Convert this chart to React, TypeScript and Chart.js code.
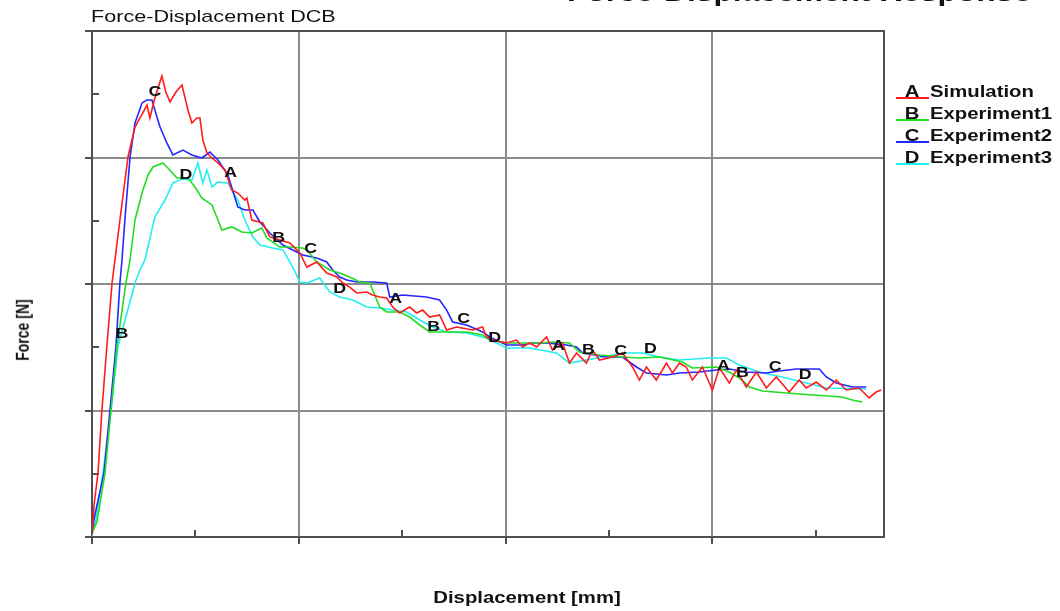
import React, { useEffect, useRef } from "react";
import { Chart, registerables } from "chart.js";

Chart.register(...registerables);

const FONT = '"Liberation Sans", Arial, Helvetica, sans-serif';
const STRETCH = 1.27;

// Displacement [mm] / Force [N] pairs
const simulation: [number, number][] = [
  [0, 1.6], [0.10, 25.3], [0.29, 50.6], [0.48, 100.4], [0.72, 151.0], [0.97, 200.8], [1.11, 219.0], [1.35, 250.6],
  [1.74, 300.4], [2.08, 324.1], [2.66, 341.5], [2.80, 331.2], [3.04, 347.0], [3.38, 364.4], [3.57, 351.8], [3.77, 343.9],
  [4.06, 351.8], [4.35, 357.3], [4.64, 337.5], [4.83, 327.3], [5.07, 331.2], [5.22, 331.2], [5.36, 313.8], [5.56, 303.6],
  [5.80, 299.6], [6.09, 295.7], [6.43, 290.1], [6.76, 274.3], [7.05, 271.9], [7.39, 266.4], [7.49, 268.0], [7.73, 250.6],
  [8.26, 248.2], [8.60, 237.2], [9.57, 232.4], [10.05, 224.5], [10.39, 213.4], [10.87, 217.4], [11.35, 208.7], [11.84, 205.5],
  [12.13, 200.8], [12.46, 197.6], [12.80, 192.9], [13.29, 193.7], [13.57, 191.3], [13.91, 189.7], [14.25, 188.9], [14.54, 181.8],
  [14.88, 177.1], [15.36, 181.8], [15.70, 177.1], [15.99, 179.4], [16.33, 173.9], [16.81, 175.5], [17.15, 163.6], [17.63, 166.0],
  [18.41, 163.6], [18.89, 166.0], [19.08, 158.1], [19.37, 155.7], [20.05, 153.4], [20.53, 155.7], [20.82, 150.2], [21.16, 153.4],
  [21.50, 150.2], [21.98, 158.1], [22.27, 147.8], [22.75, 153.4], [23.09, 137.5], [23.43, 145.5], [23.91, 137.5], [24.20, 147.8],
  [24.54, 139.9], [25.17, 142.3], [25.65, 145.5], [26.14, 134.4], [26.47, 124.1], [26.81, 134.4], [27.29, 124.1], [27.78, 137.5],
  [28.07, 129.6], [28.41, 137.5], [28.74, 134.4], [29.03, 124.1], [29.52, 134.4], [30.00, 116.2], [30.34, 133.6], [30.82, 121.7],
  [31.16, 132.0], [31.64, 118.6], [32.13, 130.4], [32.61, 117.8], [33.09, 126.5], [33.72, 114.6], [34.20, 124.1], [34.54, 117.8],
  [35.02, 122.5], [35.51, 116.2], [35.99, 124.1], [36.47, 116.2], [37.10, 117.8], [37.58, 109.9], [37.92, 114.6], [38.16, 116.2],
];

const experiment1: [number, number][] = [
  [0, 3.2], [0.24, 11.9], [0.63, 50.6], [0.92, 100.4], [1.21, 151.0], [1.64, 200.8], [1.84, 219.0], [2.08, 250.6],
  [2.42, 271.9], [2.71, 286.2], [2.95, 292.5], [3.43, 295.7], [3.67, 291.7], [4.11, 283.8], [4.64, 283.8], [4.98, 276.7],
  [5.31, 268.0], [5.80, 262.5], [6.09, 250.6], [6.28, 242.7], [6.76, 245.1], [7.25, 241.1], [7.73, 240.3], [8.21, 244.3],
  [8.45, 236.4], [9.08, 229.2], [9.57, 229.2], [10.19, 228.5], [10.39, 226.9], [10.87, 217.4], [11.50, 211.1], [11.98, 208.7],
  [12.46, 205.5], [12.95, 201.6], [13.43, 200.8], [13.57, 195.3], [13.91, 181.8], [14.25, 177.9], [14.88, 177.9], [15.36, 173.9],
  [15.85, 167.6], [16.33, 162.1], [17.15, 162.1], [18.12, 162.1], [18.89, 159.7], [19.23, 155.7], [20.05, 153.4], [21.64, 153.4],
  [22.27, 154.2], [23.09, 153.4], [23.57, 146.2], [24.54, 143.9], [25.65, 142.3], [26.47, 141.5], [27.44, 142.3], [28.55, 138.3],
  [29.03, 133.6], [30.19, 134.4], [30.82, 130.4], [31.30, 125.7], [31.79, 118.6], [32.42, 115.4], [34.20, 113.0], [36.28, 110.7],
  [36.76, 108.3], [37.25, 106.7],
];

const experiment2: [number, number][] = [
  [0, 3.2], [0.14, 17.4], [0.58, 50.6], [0.87, 100.4], [1.16, 151.0], [1.35, 200.8], [1.45, 219.0], [1.59, 250.6],
  [1.84, 300.4], [2.08, 327.3], [2.42, 343.1], [2.66, 345.5], [2.90, 345.5], [3.04, 337.5], [3.29, 324.1], [3.62, 311.5],
  [3.91, 302.0], [4.40, 305.9], [4.83, 302.0], [5.31, 299.6], [5.70, 304.3], [6.09, 298.0], [6.57, 286.2], [7.05, 260.9],
  [7.39, 258.5], [7.78, 258.5], [8.12, 249.0], [8.60, 240.3], [9.23, 230.8], [9.71, 226.9], [10.19, 222.9], [10.87, 220.6],
  [11.35, 217.4], [11.64, 211.1], [11.98, 205.5], [12.32, 203.2], [12.80, 201.6], [13.57, 201.6], [14.25, 200.8], [14.40, 189.7],
  [15.02, 191.3], [16.18, 189.7], [16.81, 187.4], [17.15, 179.4], [17.44, 170.0], [18.12, 167.6], [18.89, 162.1], [19.23, 158.1],
  [20.05, 151.8], [20.82, 151.8], [21.30, 153.4], [21.98, 153.4], [22.95, 151.8], [23.43, 150.2], [23.72, 145.5], [24.88, 142.3],
  [25.65, 142.3], [26.33, 134.4], [26.81, 129.6], [27.78, 128.1], [28.41, 129.6], [29.37, 130.4], [30.19, 132.0], [30.82, 132.8],
  [31.64, 130.4], [32.61, 129.6], [33.24, 131.2], [34.06, 132.8], [35.17, 132.8], [35.51, 126.5], [35.99, 121.7], [36.76, 118.6],
  [37.44, 118.6],
];

const experiment3: [number, number][] = [
  [0, 0.8], [0.19, 13.4], [0.53, 50.6], [0.92, 100.4], [1.26, 151.0], [2.08, 200.8], [2.32, 211.1], [2.56, 219.0],
  [3.04, 253.0], [3.53, 266.4], [3.91, 279.8], [4.35, 283.0], [4.83, 282.2], [5.12, 295.7], [5.36, 279.8], [5.56, 290.1],
  [5.80, 276.7], [6.09, 280.6], [6.57, 279.8], [7.05, 266.4], [7.39, 250.6], [7.78, 237.2], [8.12, 230.8], [8.74, 228.5],
  [9.23, 226.9], [9.71, 213.4], [10.05, 201.6], [10.39, 200.8], [11.01, 204.7], [11.50, 193.7], [11.98, 189.7], [12.61, 187.4],
  [13.29, 181.8], [13.91, 181.0], [14.54, 179.4], [15.22, 177.9], [15.85, 171.5], [16.47, 166.0], [17.15, 162.1], [18.12, 161.3],
  [19.08, 157.3], [20.05, 149.4], [21.16, 149.4], [22.46, 145.5], [23.09, 137.5], [23.91, 139.9], [24.69, 142.3], [25.65, 145.5],
  [26.62, 145.5], [27.44, 142.3], [28.41, 139.9], [29.86, 141.5], [30.68, 141.5], [31.30, 136.0], [32.27, 130.4], [33.57, 125.7],
  [34.35, 122.5], [35.51, 117.8], [37.44, 117.0],
];

const seriesNames = ["Simulation", "Experiment1", "Experiment2", "Experiment3"];
const seriesLetters = ["A", "B", "C", "D"];
const seriesColors = ["#ff1c1c", "#22dd22", "#2626ff", "#22eef2"];

// Letter markers placed along the curves
const markLetters = ["C", "D", "A", "B", "B", "C", "D", "A", "B", "C", "D", "A", "B", "C", "D", "A", "B", "C", "D"];
const markX = [3.04, 4.54, 6.71, 1.45, 9.03, 10.58, 11.98, 14.69, 16.52, 17.97, 19.47, 22.56, 24.01, 25.56, 27.0, 30.53, 31.45, 33.04, 34.49];
const markY = [352.6, 287.0, 288.5, 161.3, 237.2, 228.5, 196.8, 188.9, 166.8, 173.1, 158.1, 151.8, 148.6, 147.8, 149.4, 136.0, 130.4, 135.2, 128.9];

const xRange = [0, 38.3];
const yRange = [0, 400];
const xMajor = [0, 10, 20, 30];
const xMinor = [5, 15, 25, 35];
const yMajor = [0, 100, 200, 300, 400];
const yMinor = [50, 150, 250, 350];

const framePlugin = {
  id: "frame",
  beforeDatasetsDraw(chart: any) {
    const { ctx, chartArea: a, scales } = chart;
    const x = scales.x;
    const y = scales.y;
    ctx.save();
    ctx.lineCap = "butt";
    ctx.lineWidth = 2;
    ctx.strokeStyle = "#8c8c8c";
    xMajor.forEach((v) => {
      const px = Math.round(x.getPixelForValue(v));
      ctx.beginPath();
      ctx.moveTo(px, a.top);
      ctx.lineTo(px, a.bottom + 7);
      ctx.stroke();
    });
    yMajor.forEach((v) => {
      const py = Math.round(y.getPixelForValue(v));
      ctx.beginPath();
      ctx.moveTo(a.left - 7, py);
      ctx.lineTo(a.right, py);
      ctx.stroke();
    });
    ctx.strokeStyle = "#505050";
    ctx.strokeRect(a.left, a.top, a.right - a.left, a.bottom - a.top);
    ctx.beginPath();
    xMajor.forEach((v) => {
      const px = Math.round(x.getPixelForValue(v));
      ctx.moveTo(px, a.bottom);
      ctx.lineTo(px, a.bottom + 7);
    });
    yMajor.forEach((v) => {
      const py = Math.round(y.getPixelForValue(v));
      ctx.moveTo(a.left - 7, py);
      ctx.lineTo(a.left, py);
    });
    xMinor.forEach((v) => {
      const px = Math.round(x.getPixelForValue(v));
      ctx.moveTo(px, a.bottom);
      ctx.lineTo(px, a.bottom - 7);
    });
    yMinor.forEach((v) => {
      const py = Math.round(y.getPixelForValue(v));
      ctx.moveTo(a.left, py);
      ctx.lineTo(a.left + 7, py);
    });
    ctx.stroke();
    ctx.restore();
  },
};

const markPlugin = {
  id: "marks",
  afterDatasetsDraw(chart: any) {
    const { ctx, scales } = chart;
    ctx.save();
    ctx.fillStyle = "#111";
    ctx.font = `bold 14px ${FONT}`;
    ctx.textAlign = "center";
    ctx.textBaseline = "alphabetic";
    markLetters.forEach((t, i) => {
      const px = scales.x.getPixelForValue(markX[i]);
      const py = scales.y.getPixelForValue(markY[i]);
      ctx.save();
      ctx.translate(px, py + 5);
      ctx.scale(STRETCH, 1);
      ctx.fillText(t, 0, 0);
      ctx.restore();
    });
    ctx.restore();
  },
};

const textBase: React.CSSProperties = {
  position: "absolute",
  fontFamily: FONT,
  whiteSpace: "nowrap",
  lineHeight: 1,
  color: "#111",
};

export default function App() {
  const ref = useRef<HTMLCanvasElement>(null);

  useEffect(() => {
    const series = [simulation, experiment1, experiment2, experiment3];
    const chart = new Chart(ref.current as HTMLCanvasElement, {
      type: "line",
      data: {
        datasets: series.map((s, i) => ({
          label: seriesNames[i],
          data: s.map(([x, y]) => ({ x, y })),
          borderColor: seriesColors[i],
          backgroundColor: seriesColors[i],
          borderWidth: 1.6,
          pointRadius: 0,
          fill: false,
          tension: 0,
        })),
      },
      options: {
        responsive: false,
        animation: false,
        events: [],
        layout: { padding: { left: 92, top: 31, right: 176, bottom: 74 } },
        plugins: {
          legend: { display: false },
          tooltip: { enabled: false },
          title: { display: false },
        },
        scales: {
          x: { type: "linear", min: xRange[0], max: xRange[1], display: false },
          y: { type: "linear", min: yRange[0], max: yRange[1], display: false },
        },
      },
      plugins: [framePlugin, markPlugin],
    } as any);
    return () => chart.destroy();
  }, []);

  return (
    <div
      style={{
        position: "fixed",
        left: 0,
        top: 0,
        width: 1060,
        height: 611,
        background: "#fff",
        overflow: "hidden",
      }}
    >
      <canvas ref={ref} width={1060} height={611} style={{ position: "absolute", left: 0, top: 0 }} />
      <div
        style={{
          ...textBase,
          left: 567,
          top: -20,
          fontSize: 25,
          fontWeight: "bold",
          transform: `scaleX(${STRETCH})`,
          transformOrigin: "left top",
        }}
      >
        Force-Displacement Response
      </div>
      <div
        style={{
          ...textBase,
          left: 91,
          top: 8,
          fontSize: 17,
          transform: `scaleX(${STRETCH})`,
          transformOrigin: "left top",
        }}
      >
        Force-Displacement DCB
      </div>
      {seriesNames.map((name, i) => {
        const cy = 91.5 + 22 * i;
        return (
          <React.Fragment key={name}>
            <div
              style={{
                position: "absolute",
                left: 896,
                top: 97 + 22 * i,
                width: 33,
                height: 2,
                background: seriesColors[i],
              }}
            />
            <div
              style={{
                ...textBase,
                left: 912,
                top: cy - 7.7,
                fontSize: 16,
                fontWeight: "bold",
                transform: `translateX(-50%) scaleX(${STRETCH})`,
              }}
            >
              {seriesLetters[i]}
            </div>
            <div
              style={{
                ...textBase,
                left: 930,
                top: cy - 7.7,
                fontSize: 16,
                fontWeight: "bold",
                transform: `scaleX(${STRETCH})`,
                transformOrigin: "left top",
              }}
            >
              {name}
            </div>
          </React.Fragment>
        );
      })}
      <div
        style={{
          ...textBase,
          left: 527,
          top: 590,
          fontSize: 16,
          fontWeight: "bold",
          transform: `translateX(-50%) scaleX(${STRETCH})`,
        }}
      >
        Displacement [mm]
      </div>
      <div
        style={{
          ...textBase,
          left: 22,
          top: 330,
          fontSize: 14,
          fontWeight: "bold",
          transform: `translate(-50%, -50%) scaleX(${STRETCH}) rotate(-90deg)`,
        }}
      >
        Force [N]
      </div>
    </div>
  );
}
